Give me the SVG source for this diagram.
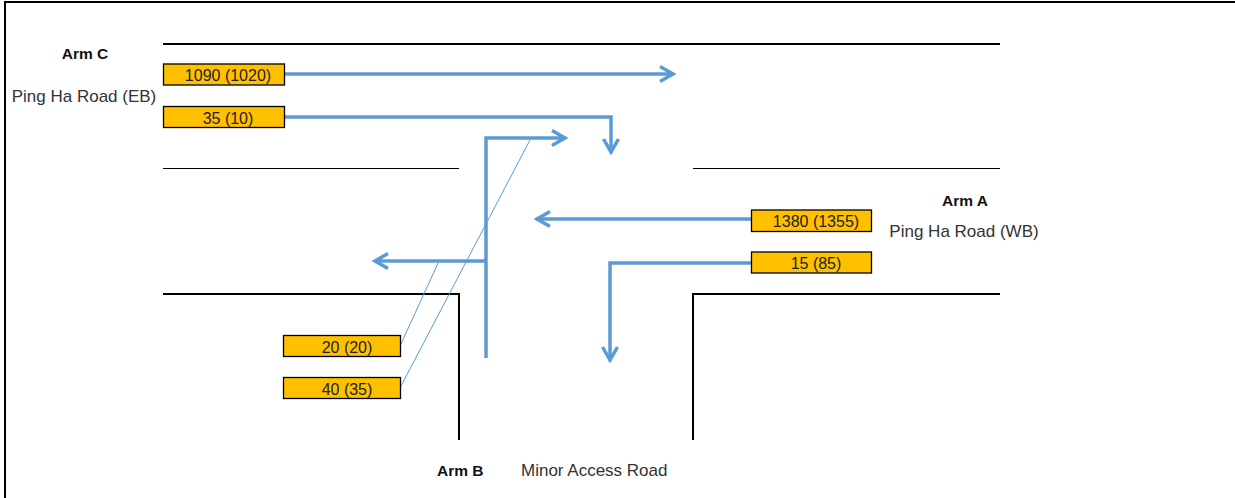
<svg xmlns="http://www.w3.org/2000/svg" width="1235" height="498" viewBox="0 0 1235 498">
<style>
.road{stroke:#000;stroke-width:2;fill:none}
.thin{stroke:#000;stroke-width:1;fill:none}
.box{fill:#FFC000;stroke:#000;stroke-width:1.3}
.num{font-family:"Liberation Sans",Arial,sans-serif;font-size:16px;fill:#222;text-anchor:middle}
.lbl{font-family:"Liberation Sans",Arial,sans-serif;font-size:17px;fill:#333}
.arm{font-family:"Liberation Sans",Arial,sans-serif;font-size:15.5px;font-weight:bold;fill:#111}
.flow{stroke:#5B9BD5;stroke-width:3.5;fill:none;stroke-linejoin:miter}
.lead{stroke:#5B9BD5;stroke-width:1;fill:none}
</style>
<defs>
<marker id="ah" markerUnits="userSpaceOnUse" viewBox="-20 -12 24 24" markerWidth="24" markerHeight="24" refX="0" refY="0" orient="auto">
<path d="M-14,-7.5 L-1,0 L-14,7.5" fill="none" stroke="#5B9BD5" stroke-width="3.5" stroke-linejoin="miter"/>
</marker>
</defs>
<rect width="1235" height="498" fill="#fff"/>
<g id="frame">
<line class="road" x1="5" y1="2" x2="1235" y2="2"/>
<line class="road" x1="5" y1="1" x2="5" y2="498"/>
</g>
<g id="roads">
<line class="road" x1="163" y1="44" x2="1000" y2="44"/>
<line class="thin" x1="163" y1="168.5" x2="459" y2="168.5"/>
<line class="thin" x1="693" y1="168.5" x2="1000" y2="168.5"/>
<polyline class="road" points="163,294 459,294 459,440"/>
<polyline class="road" points="1000,294 693,294 693,440"/>
</g>
<g id="connectors">
<polyline class="flow" points="284,74 674,74" marker-end="url(#ah)"/>
<polyline class="flow" points="285,117 611,117 611,153" marker-end="url(#ah)"/>
<polyline class="flow" points="486,358 486,138 566,138" marker-end="url(#ah)"/>
<polyline class="flow" points="486,261 374,261" marker-end="url(#ah)"/>
<polyline class="flow" points="751,219 536,219" marker-end="url(#ah)"/>
<polyline class="flow" points="751,263 610,263 610,361" marker-end="url(#ah)"/>
<line class="lead" x1="400.5" y1="345" x2="439" y2="261"/>
<line class="lead" x1="400.5" y1="387" x2="530" y2="140"/>
</g>
<g id="armC">
<text class="arm" x="85" y="59" text-anchor="middle">Arm C</text>
<text class="lbl" x="84" y="102" text-anchor="middle">Ping Ha Road (EB)</text>
</g>
<g id="armA">
<text class="arm" x="965" y="206" text-anchor="middle">Arm A</text>
<text class="lbl" x="964" y="237" text-anchor="middle">Ping Ha Road (WB)</text>
</g>
<g id="armB">
<text class="arm" x="437" y="476">Arm B</text>
<text class="lbl" x="521" y="476">Minor Access Road</text>
</g>
<g id="c-through">
<rect class="box" x="163.5" y="64" width="121" height="21"/>
<text class="num" x="228" y="81">1090 (1020)</text>
</g>
<g id="c-right">
<rect class="box" x="163.5" y="106.5" width="121" height="21"/>
<text class="num" x="228" y="123.5">35 (10)</text>
</g>
<g id="a-through">
<rect class="box" x="751.5" y="210" width="120" height="21.5"/>
<text class="num" x="816" y="227">1380 (1355)</text>
</g>
<g id="a-left">
<rect class="box" x="751.5" y="252" width="120" height="21"/>
<text class="num" x="816" y="269">15 (85)</text>
</g>
<g id="b-left">
<rect class="box" x="283.5" y="335.5" width="117" height="21"/>
<text class="num" x="347" y="352.5">20 (20)</text>
</g>
<g id="b-right">
<rect class="box" x="283.5" y="377.5" width="117" height="21"/>
<text class="num" x="347" y="394.5">40 (35)</text>
</g>
</svg>
